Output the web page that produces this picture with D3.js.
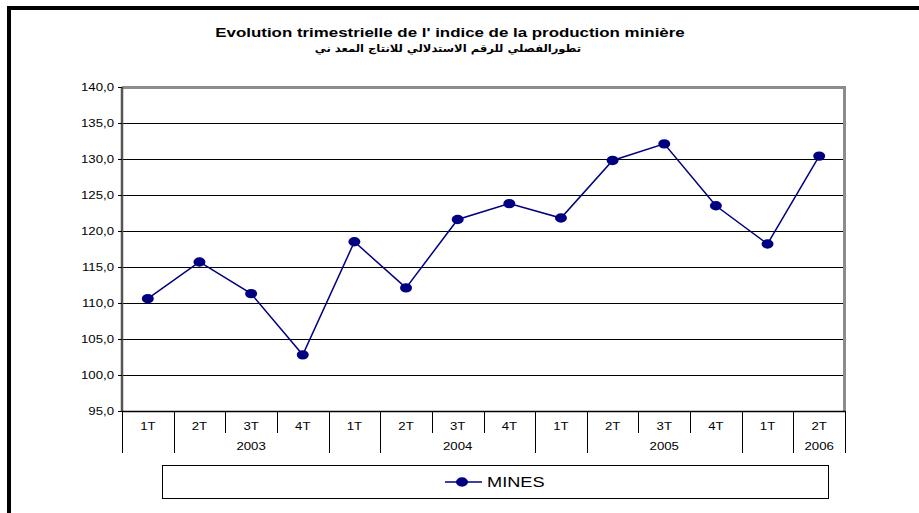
<html>
<head>
<meta charset="utf-8">
<script src="https://d3js.org/d3.v7.min.js"></script>
<style>
body { margin: 0; background: #fff; }
text { font-family: "Liberation Sans", Arial, "DejaVu Sans", sans-serif; fill: #000; }
.axis text { font-size: 11px; }
.grid line { stroke: #000; stroke-width: 1; shape-rendering: crispEdges; }
</style>
<title>Evolution trimestrielle</title>
</head>
<body>
<svg width="919" height="513"></svg>
<script>

// data
var quarters = ["1T", "2T", "3T", "4T", "1T", "2T", "3T", "4T", "1T", "2T", "3T", "4T", "1T", "2T"];
var values = [110.6, 115.7, 111.3, 102.8, 118.5, 112.1, 121.6, 123.8, 121.8, 129.8, 132.1, 123.5, 118.2, 130.4];
var years = ["2003", "2004", "2005", "2006"];
// year groups as drawn (start index, end index) - shifted by one quarter like in the original
var yearSpans = [[1, 4], [5, 8], [9, 12], [13, 14]];
var yTicks = [95, 100, 105, 110, 115, 120, 125, 130, 135, 140];

var svg = d3.select("svg"),
    margin = {top: 87, right: 74, bottom: 102, left: 122},
    width = +svg.attr("width") - margin.left - margin.right,
    height = +svg.attr("height") - margin.top - margin.bottom;

// the original picture is a bit wider than tall, so text is stretched horizontally
var sx = 1.2;

function addText(parent, x, y, str, anchor, s) {
  return parent.append("text")
      .attr("transform", "translate(" + x + "," + y + ") scale(" + (s || sx) + ",1)")
      .attr("text-anchor", anchor || "middle")
      .text(str);
}

// outer frame (cut by the window on the right and bottom)
svg.append("rect")
    .attr("x", 9).attr("y", 8)
    .attr("width", 940).attr("height", 540)
    .attr("fill", "none")
    .attr("stroke", "#000")
    .attr("stroke-width", 4);

addText(svg, 450, 37, "Evolution trimestrielle de l' indice de la production minière", "middle", 1.3)
    .style("font-size", "13px").style("font-weight", "bold");

addText(svg, 448, 52, "تطورالفصلي للرقم الاستدلالي للانتاج المعد ني", "middle", 1.1)
    .attr("direction", "rtl")
    .style("font-size", "10.5px").style("font-weight", "bold")
    .style("font-family", "'DejaVu Sans', sans-serif");

var x = d3.scaleBand().domain(d3.range(quarters.length)).range([0, width]),
    y = d3.scaleLinear().domain([95, 140]).range([height, 0]);

var g = svg.append("g")
    .attr("transform", "translate(" + margin.left + "," + margin.top + ")");

// gridlines
g.append("g")
    .attr("class", "grid")
    .selectAll("line")
    .data(yTicks.slice(1, -1))
  .enter().append("line")
    .attr("x1", 0).attr("x2", width)
    .attr("y1", function(d) { return Math.round(y(d)) + 0.5; })
    .attr("y2", function(d) { return Math.round(y(d)) + 0.5; });

// plot area border (grey top / right)
g.append("path")
    .attr("d", "M0,0.5H" + (width - 0.5) + "V" + height)
    .attr("fill", "none")
    .attr("stroke", "#8c8c8c")
    .attr("stroke-width", 3);

// y axis
var yAxis = g.append("g")
    .attr("class", "axis axis--y")
    .call(d3.axisLeft(y).tickValues(yTicks).tickSize(4).tickPadding(3)
        .tickFormat(function(d) { return d3.format(".1f")(d).replace(".", ","); }));
yAxis.select(".domain").attr("stroke", "#555").attr("stroke-width", 2.5).attr("d", "M0," + height + "V0");
yAxis.selectAll(".tick line").attr("stroke", "#000");
yAxis.selectAll(".tick text")
    .attr("x", -8 / sx)
    .attr("transform", "scale(" + sx + ",1)");

// x axis line
g.append("line")
    .attr("x1", 0).attr("x2", width)
    .attr("y1", height + 0.5).attr("y2", height + 0.5)
    .attr("stroke", "#000").attr("stroke-width", 1.5);

// category separators
var longBreaks = [0, quarters.length];
yearSpans.forEach(function(s) { longBreaks.push(s[0]); });
yearSpans.forEach(function(s) { if (s[1] < quarters.length) longBreaks.push(s[1]); });
var sep = g.append("g").attr("class", "separators");
d3.range(quarters.length + 1).forEach(function(k) {
  var isLong = longBreaks.indexOf(k) >= 0;
  var xx = Math.round(k === quarters.length ? width : x(k)) + 0.5;
  sep.append("line")
      .attr("x1", xx).attr("x2", xx)
      .attr("y1", height)
      .attr("y2", height + (isLong ? 42 : 22))
      .attr("stroke", "#000").attr("stroke-width", 1);
});

var qLabels = g.append("g").attr("class", "axis");
quarters.forEach(function(q, i) {
  addText(qLabels, x(i) + x.bandwidth() / 2, height + 19, q);
});

var yLabels = g.append("g").attr("class", "axis");
years.forEach(function(yr, i) {
  var s = yearSpans[i];
  var cx = (x(s[0]) + (s[1] >= quarters.length ? width : x(s[1]))) / 2;
  addText(yLabels, cx, height + 39, yr);
});

// series
var line = d3.line()
    .x(function(d, i) { return x(i) + x.bandwidth() / 2; })
    .y(function(d) { return y(d); });

g.append("path")
    .datum(values)
    .attr("fill", "none")
    .attr("stroke", "#000080")
    .attr("stroke-width", 1.5)
    .attr("d", line);

g.selectAll(".dot")
    .data(values)
  .enter().append("ellipse")
    .attr("class", "dot")
    .attr("cx", function(d, i) { return x(i) + x.bandwidth() / 2; })
    .attr("cy", function(d) { return y(d); })
    .attr("rx", 6).attr("ry", 4.7)
    .attr("fill", "#000080");

// legend
var legend = svg.append("g").attr("transform", "translate(162,465)");
legend.append("rect")
    .attr("x", 0.5).attr("y", 0.5)
    .attr("width", 666).attr("height", 33)
    .attr("fill", "#fff")
    .attr("stroke", "#000").attr("stroke-width", 1);
legend.append("line")
    .attr("x1", 283).attr("x2", 320)
    .attr("y1", 17).attr("y2", 17)
    .attr("stroke", "#000080").attr("stroke-width", 1.5);
legend.append("ellipse")
    .attr("cx", 300).attr("cy", 17)
    .attr("rx", 6).attr("ry", 4.7)
    .attr("fill", "#000080");
addText(legend, 325, 22, "MINES", "start", 1.3)
    .style("font-size", "14px");

</script>
</body>
</html>
